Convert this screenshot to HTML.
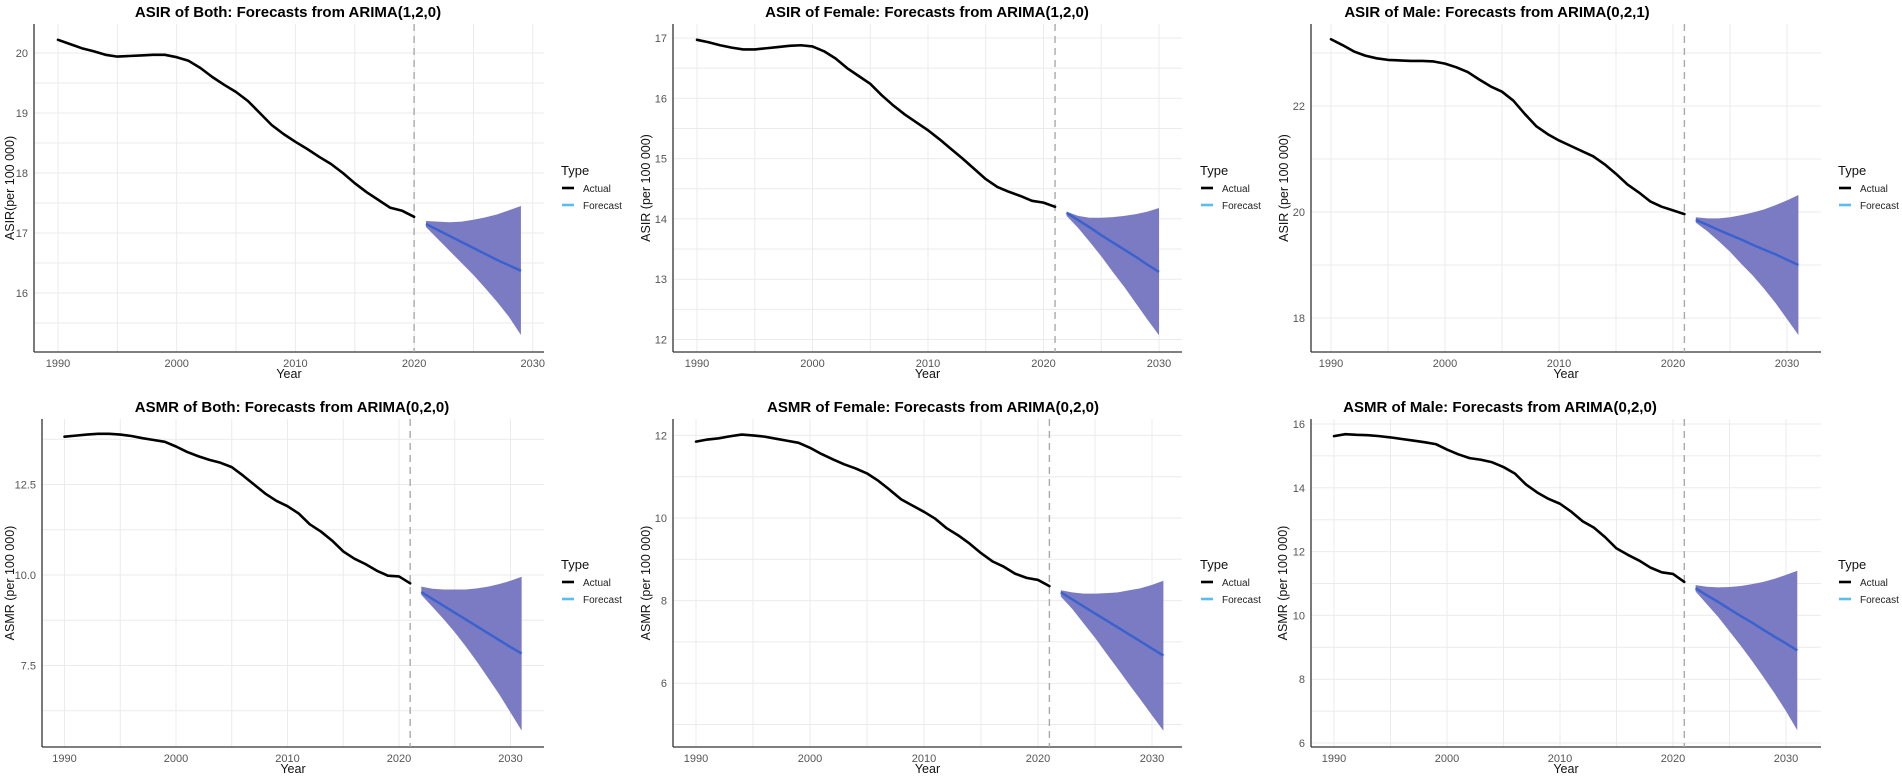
<!DOCTYPE html>
<html><head><meta charset="utf-8"><style>
html,body{margin:0;padding:0;background:#fff;}
svg{display:block;font-family:"Liberation Sans",Arial,sans-serif;}
</style></head><body>
<svg id="chart" width="1902" height="779" viewBox="0 0 1902 779" xmlns="http://www.w3.org/2000/svg"></svg>
<script>
// ---- data arrays ----
const actualYears1990 = [1990,1991,1992,1993,1994,1995,1996,1997,1998,1999,2000,2001,2002,2003,2004,2005,2006,2007,2008,2009,2010,2011,2012,2013,2014,2015,2016,2017,2018,2019,2020,2021];
const xTickLabels = [1990,2000,2010,2020,2030];

const asirBothActual = [20.22,20.15,20.08,20.03,19.97,19.94,19.95,19.96,19.97,19.97,19.93,19.87,19.75,19.6,19.47,19.35,19.2,19.0,18.8,18.65,18.52,18.4,18.27,18.15,18.0,17.83,17.68,17.55,17.42,17.37,17.27];
const asirBothFcYears = [2021,2022,2023,2024,2025,2026,2027,2028,2029];
const asirBothMid = [17.15,17.05,16.95,16.85,16.75,16.65,16.55,16.46,16.37];
const asirBothUp = [17.2,17.19,17.18,17.19,17.22,17.26,17.31,17.38,17.45];
const asirBothLo = [17.1,16.9,16.7,16.5,16.3,16.08,15.85,15.6,15.3];

const asirFemaleActual = [16.97,16.93,16.88,16.84,16.81,16.81,16.83,16.85,16.87,16.88,16.86,16.78,16.66,16.5,16.37,16.24,16.05,15.88,15.73,15.6,15.47,15.32,15.16,15.0,14.83,14.66,14.53,14.45,14.38,14.3,14.27,14.2];
const asirFemaleFcYears = [2022,2023,2024,2025,2026,2027,2028,2029,2030];
const asirFemaleMid = [14.1,13.98,13.86,13.73,13.61,13.49,13.37,13.24,13.12];
const asirFemaleUp = [14.12,14.05,14.02,14.02,14.03,14.05,14.08,14.12,14.18];
const asirFemaleLo = [14.05,13.85,13.62,13.38,13.12,12.87,12.6,12.33,12.07];

const asirMaleActual = [23.26,23.15,23.03,22.95,22.9,22.87,22.86,22.85,22.85,22.84,22.8,22.73,22.64,22.5,22.37,22.27,22.1,21.85,21.62,21.47,21.35,21.25,21.15,21.05,20.9,20.72,20.52,20.37,20.2,20.1,20.03,19.96];
const fcYears2031 = [2022,2023,2024,2025,2026,2027,2028,2029,2030,2031];
const asirMaleMid = [19.85,19.76,19.66,19.57,19.48,19.38,19.29,19.2,19.1,19.0];
const asirMaleUp = [19.9,19.88,19.88,19.9,19.94,19.99,20.05,20.13,20.22,20.32];
const asirMaleLo = [19.8,19.64,19.45,19.25,19.02,18.8,18.55,18.28,17.98,17.68];

const asmrBothActual = [13.82,13.85,13.88,13.9,13.9,13.88,13.84,13.78,13.73,13.68,13.55,13.4,13.28,13.18,13.1,12.98,12.75,12.5,12.25,12.05,11.9,11.7,11.4,11.2,10.95,10.65,10.45,10.3,10.12,9.98,9.96,9.77];
const asmrBothMid = [9.53,9.34,9.15,8.96,8.77,8.58,8.39,8.2,8.01,7.83];
const asmrBothUp = [9.68,9.62,9.6,9.6,9.6,9.63,9.68,9.75,9.84,9.95];
const asmrBothLo = [9.45,9.12,8.78,8.42,8.02,7.6,7.15,6.7,6.2,5.7];

const asmrFemaleActual = [11.85,11.9,11.93,11.98,12.02,12.0,11.97,11.92,11.87,11.82,11.7,11.55,11.42,11.3,11.2,11.08,10.9,10.68,10.45,10.3,10.15,9.98,9.75,9.58,9.38,9.15,8.95,8.82,8.65,8.55,8.5,8.35];
const asmrFemaleMid = [8.2,8.03,7.86,7.69,7.52,7.35,7.18,7.01,6.84,6.67];
const asmrFemaleUp = [8.25,8.2,8.17,8.17,8.18,8.2,8.25,8.3,8.38,8.48];
const asmrFemaleLo = [8.1,7.8,7.45,7.1,6.72,6.35,5.97,5.6,5.22,4.85];

const asmrMaleActual = [15.62,15.68,15.66,15.65,15.62,15.58,15.53,15.48,15.43,15.37,15.2,15.05,14.93,14.88,14.8,14.65,14.45,14.1,13.85,13.65,13.5,13.25,12.95,12.75,12.45,12.1,11.9,11.72,11.5,11.35,11.3,11.05];
const asmrMaleMid = [10.85,10.63,10.42,10.2,9.98,9.77,9.55,9.33,9.12,8.9];
const asmrMaleUp = [10.95,10.9,10.88,10.89,10.92,10.98,11.05,11.15,11.27,11.4];
const asmrMaleLo = [10.75,10.35,9.95,9.5,9.05,8.57,8.07,7.55,7.0,6.4];

const yTicksAsirBoth = [16,17,18,19,20];
const yTicksAsirFemale = [12,13,14,15,16,17];
const yTicksAsirMale = [18,20,22];
const yTicksAsmrBoth = [7.5,10.0,12.5];
const yTicksAsmrFemale = [6,8,10,12];
const yTicksAsmrMale = [6,8,10,12,14,16];

// ---- layout (not data) ----
const NS = "http://www.w3.org/2000/svg";
const svg = document.getElementById('chart');
function mk(tag, attrs, parent){ const e=document.createElementNS(NS,tag); for(const k in attrs) e.setAttribute(k,attrs[k]); (parent||svg).appendChild(e); return e; }

const panels = [
 {id:'asir-both', title:'ASIR of Both: Forecasts from ARIMA(1,2,0)', titleX:288, titleY:17, yTitle:'ASIR(per 100 000)', yTitleX:14,
  axisX:34, right:544, top:24, bottom:352, x0:58, pxYr:11.87, yRefV:20, yRefPx:53, pxU:60, ticks:yTicksAsirBoth, minor:0.5, dec:0,
  dash:2020, actual:asirBothActual, fy:asirBothFcYears, mid:asirBothMid, up:asirBothUp, lo:asirBothLo, legX:561, legY:170},
 {id:'asir-female', title:'ASIR of Female: Forecasts from ARIMA(1,2,0)', titleX:927, titleY:17, yTitle:'ASIR (per 100 000)', yTitleX:650,
  axisX:673, right:1182, top:24, bottom:352, x0:697, pxYr:11.55, yRefV:17, yRefPx:38, pxU:60.3, ticks:yTicksAsirFemale, minor:0.5, dec:0,
  dash:2021, actual:asirFemaleActual, fy:asirFemaleFcYears, mid:asirFemaleMid, up:asirFemaleUp, lo:asirFemaleLo, legX:1200, legY:170},
 {id:'asir-male', title:'ASIR of Male: Forecasts from ARIMA(0,2,1)', titleX:1497, titleY:17, yTitle:'ASIR (per 100 000)', yTitleX:1288,
  axisX:1311, right:1821, top:24, bottom:352, x0:1331, pxYr:11.4, yRefV:20, yRefPx:212, pxU:53, ticks:yTicksAsirMale, minor:1, dec:0,
  dash:2021, actual:asirMaleActual, fy:fcYears2031, mid:asirMaleMid, up:asirMaleUp, lo:asirMaleLo, legX:1838, legY:170},
 {id:'asmr-both', title:'ASMR of Both: Forecasts from ARIMA(0,2,0)', titleX:292, titleY:412, yTitle:'ASMR (per 100 000)', yTitleX:14,
  axisX:42, right:544, top:419, bottom:747, x0:64.5, pxYr:11.15, yRefV:10, yRefPx:575, pxU:36.2, ticks:yTicksAsmrBoth, minor:1.25, dec:1,
  dash:2021, actual:asmrBothActual, fy:fcYears2031, mid:asmrBothMid, up:asmrBothUp, lo:asmrBothLo, legX:561, legY:564},
 {id:'asmr-female', title:'ASMR of Female: Forecasts from ARIMA(0,2,0)', titleX:933, titleY:412, yTitle:'ASMR (per 100 000)', yTitleX:650,
  axisX:673, right:1182, top:419, bottom:747, x0:696, pxYr:11.4, yRefV:10, yRefPx:518, pxU:41.3, ticks:yTicksAsmrFemale, minor:1, dec:0,
  dash:2021, actual:asmrFemaleActual, fy:fcYears2031, mid:asmrFemaleMid, up:asmrFemaleUp, lo:asmrFemaleLo, legX:1200, legY:564},
 {id:'asmr-male', title:'ASMR of Male: Forecasts from ARIMA(0,2,0)', titleX:1500, titleY:412, yTitle:'ASMR (per 100 000)', yTitleX:1287,
  axisX:1311, right:1821, top:419, bottom:747, x0:1334, pxYr:11.3, yRefV:16, yRefPx:424, pxU:31.9, ticks:yTicksAsmrMale, minor:1, dec:0,
  dash:2021, actual:asmrMaleActual, fy:fcYears2031, mid:asmrMaleMid, up:asmrMaleUp, lo:asmrMaleLo, legX:1838, legY:564}
];

panels.forEach(p=>{
  const g = mk('g',{});
  
  
  const X = yr => p.x0 + (yr-1990)*p.pxYr;
  const Y = v => p.yRefPx - (v-p.yRefV)*p.pxU;
  const vTop = p.yRefV + (p.yRefPx-p.top)/p.pxU, vBot = p.yRefV - (p.bottom-p.yRefPx)/p.pxU;
  // horizontal gridlines (minor + major)
  const start = Math.ceil(vBot/p.minor)*p.minor;
  for(let v=start; v<=vTop+1e-9; v+=p.minor){
    const l = mk('line',{x1:p.axisX,x2:p.right,y1:Y(v),y2:Y(v),stroke:'#ebebeb','stroke-width':1},g);
    
    
  }
  for(let yr=1990; yr<=2030; yr+=5){
    const l = mk('line',{x1:X(yr),x2:X(yr),y1:p.top,y2:p.bottom,stroke:'#ebebeb','stroke-width':1},g);
    
    
  }
  // axes
  const ya = mk('line',{x1:p.axisX,x2:p.axisX,y1:p.top,y2:p.bottom,stroke:'#333','stroke-width':1.3},g);
  
  
  const xa = mk('line',{x1:p.axisX,x2:p.right,y1:p.bottom,y2:p.bottom,stroke:'#333','stroke-width':1.3},g);
  
  
  // y ticks
  p.ticks.forEach(v=>{
    const t = mk('text',{x:p.axisX-6,y:Y(v)+4,'text-anchor':'end','font-size':11,fill:'#555'},g);
    t.textContent = p.dec ? v.toFixed(p.dec) : String(v);
    
    
  });
  xTickLabels.forEach(yr=>{
    const t = mk('text',{x:X(yr),y:p.bottom+15,'text-anchor':'middle','font-size':11,fill:'#555'},g);
    t.textContent = String(yr);
    
    
  });
  // axis titles
  const xt = mk('text',{x:(p.axisX+p.right)/2,y:p.bottom+26,'text-anchor':'middle','font-size':12.5,fill:'#111'},g);
  xt.textContent='Year';
  
  
  const cy=(p.top+p.bottom)/2;
  const yt = mk('text',{x:p.yTitleX,y:cy,'text-anchor':'middle','font-size':12.5,fill:'#111',transform:`rotate(-90 ${p.yTitleX} ${cy})`},g);
  yt.textContent=p.yTitle;
  
  
  // title
  const tt = mk('text',{x:p.titleX,y:p.titleY,'text-anchor':'middle','font-size':15,'font-weight':'bold',fill:'#000'},g);
  tt.textContent=p.title;
  
  
  // dashed line
  const dl = mk('line',{x1:X(p.dash),x2:X(p.dash),y1:p.top,y2:p.bottom,stroke:'#aaa','stroke-width':1.4,'stroke-dasharray':'7,5'},g);
  
  
  // band
  let pts = p.fy.map((yr,i)=>X(yr)+','+Y(p.up[i]));
  pts = pts.concat(p.fy.map((yr,i)=>X(yr)+','+Y(p.lo[i])).reverse());
  const band = mk('polygon',{points:pts.join(' '),fill:'#7b7bc3',stroke:'none'},g);
  
  
  const mid = mk('polyline',{points:p.fy.map((yr,i)=>X(yr)+','+Y(p.mid[i])).join(' '),fill:'none',stroke:'#3a62cf','stroke-width':2.5,'stroke-linejoin':'round'},g);
  
  
  const act = mk('polyline',{points:p.actual.map((v,i)=>X(actualYears1990[i])+','+Y(v)).join(' '),fill:'none',stroke:'#000','stroke-width':2.6,'stroke-linejoin':'round','stroke-linecap':'round'},g);
  
  
  // legend
  const lg = mk('g',{},g);
  
  
  const lt = mk('text',{x:p.legX,y:p.legY+5,'font-size':13,fill:'#111'},lg);
  lt.textContent='Type';
  
  
  const e1 = mk('line',{x1:p.legX+1,x2:p.legX+13,y1:p.legY+18,y2:p.legY+18,stroke:'#000','stroke-width':2.6},lg);
  
  
  const t1 = mk('text',{x:p.legX+22,y:p.legY+22,'font-size':10,fill:'#222'},lg);
  t1.textContent='Actual';
  
  
  const e2 = mk('line',{x1:p.legX+1,x2:p.legX+13,y1:p.legY+35,y2:p.legY+35,stroke:'#5bbcf0','stroke-width':2.6},lg);
  
  
  const t2 = mk('text',{x:p.legX+22,y:p.legY+39,'font-size':10,fill:'#222'},lg);
  t2.textContent='Forecast';
  
  
});
</script>
</body></html>
